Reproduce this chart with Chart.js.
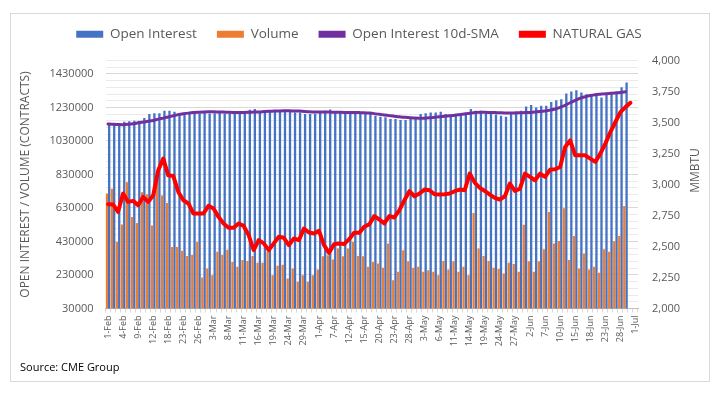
<!DOCTYPE html>
<html>
<head>
<meta charset="utf-8">
<script src="https://cdn.jsdelivr.net/npm/chart.js@4.4.1/dist/chart.umd.min.js"></script>
<style>
  html, body { margin: 0; padding: 0; background: #fff; }
  #wrap { position: relative; width: 725px; height: 395px; }
  #frame { position: absolute; left: 10px; top: 13px; width: 698px; height: 367px; border: 1px solid #d9d9d9; }
  #source { position: absolute; left: 20px; top: 359px; font: 11px 'Open Sans', sans-serif; color: #000; }
  canvas { position: absolute; left: 0; top: 0; }
</style>
</head>
<body>
<div id="wrap">
  <canvas id="chart" width="725" height="395"></canvas>
  <div id="frame"></div>
  <div id="source">Source: CME Group</div>
</div>
<script>
// trading days, Feb 1 to Jul 1
const dates = [
  '1-Feb','2-Feb','3-Feb','4-Feb','5-Feb','8-Feb','9-Feb','10-Feb','11-Feb','12-Feb',
  '16-Feb','17-Feb','18-Feb','19-Feb','22-Feb','23-Feb','24-Feb','25-Feb','26-Feb',
  '1-Mar','2-Mar','3-Mar','4-Mar','5-Mar','8-Mar','9-Mar','10-Mar','11-Mar','12-Mar',
  '15-Mar','16-Mar','17-Mar','18-Mar','19-Mar','22-Mar','23-Mar','24-Mar','25-Mar','26-Mar',
  '29-Mar','30-Mar','31-Mar',
  '1-Apr','5-Apr','6-Apr','7-Apr','8-Apr','9-Apr','12-Apr','13-Apr','14-Apr','15-Apr',
  '16-Apr','19-Apr','20-Apr','21-Apr','22-Apr','23-Apr','26-Apr','27-Apr','28-Apr','29-Apr','30-Apr',
  '3-May','4-May','5-May','6-May','7-May','10-May','11-May','12-May','13-May','14-May',
  '17-May','18-May','19-May','20-May','21-May','24-May','25-May','26-May','27-May','28-May',
  '1-Jun','2-Jun','3-Jun','4-Jun','7-Jun','8-Jun','9-Jun','10-Jun','11-Jun','14-Jun',
  '15-Jun','16-Jun','17-Jun','18-Jun','21-Jun','22-Jun','23-Jun','24-Jun','25-Jun','28-Jun',
  '29-Jun','30-Jun',
  '1-Jul'
];

const openInterest = [
  1131000, 1127000, 1127000, 1145000, 1147000, 1151000, 1151000, 1167000, 1191000, 1195000,
  1195000, 1210000, 1210000, 1204000, 1196000, 1195000, 1193000, 1196000, 1194000, 1196000,
  1193000, 1195000, 1196000, 1194000, 1195000, 1197000, 1195000, 1196000, 1216000, 1220000,
  1206000, 1205000, 1207000, 1206000, 1208000, 1210000, 1210000, 1200000, 1200000, 1191000,
  1191000, 1192000, 1206000, 1210000, 1218000, 1200000, 1200000, 1191000, 1191000, 1192000,
  1191000, 1190000, 1191000, 1181000, 1175000, 1171000, 1161000, 1161000, 1155000, 1155000,
  1161000, 1171000, 1191000, 1195000, 1200000, 1200000, 1204000, 1191000, 1187000, 1187000,
  1195000, 1200000, 1220000, 1210000, 1210000, 1195000, 1191000, 1187000, 1181000, 1175000,
  1200000, 1206000, 1210000, 1236000, 1244000, 1230000, 1240000, 1240000, 1263000, 1273000,
  1279000, 1313000, 1325000, 1333000, 1319000, 1309000, 1301000, 1303000, 1289000, 1315000,
  1318000, 1325000, 1350000, 1379000
];

const volume = [
  717000, 745000, 427000, 532000, 784000, 576000, 540000, 724000, 712000, 526000,
  824000, 705000, 659000, 397000, 397000, 374000, 344000, 350000, 427000, 215000,
  269000, 229000, 368000, 350000, 380000, 308000, 279000, 320000, 314000, 344000,
  303000, 303000, 368000, 229000, 285000, 291000, 209000, 268000, 189000, 229000,
  189000, 229000, 263000, 342000, 348000, 322000, 388000, 342000, 388000, 427000,
  344000, 342000, 279000, 308000, 298000, 273000, 418000, 199000, 249000, 378000,
  312000, 273000, 279000, 249000, 259000, 249000, 229000, 314000, 263000, 312000,
  249000, 279000, 229000, 600000, 388000, 344000, 314000, 273000, 265000, 239000,
  303000, 295000, 249000, 530000, 312000, 249000, 312000, 384000, 606000, 418000,
  433000, 629000, 320000, 463000, 269000, 358000, 263000, 279000, 243000, 384000,
  368000, 431000, 463000, 641000
];

const oiSma = [
  1131000, 1129000, 1128000, 1127000, 1129000, 1132000, 1138000, 1143000, 1147000, 1152000,
  1160000, 1166000, 1173000, 1180000, 1187000, 1192000, 1196000, 1199000, 1201000, 1203000,
  1204000, 1204000, 1203000, 1202000, 1201000, 1200000, 1200000, 1200000, 1201000, 1202000,
  1203000, 1205000, 1207000, 1208000, 1209000, 1210000, 1210000, 1209000, 1208000, 1206000,
  1204000, 1203000, 1202000, 1202000, 1202000, 1201000, 1201000, 1200000, 1200000, 1200000,
  1199000, 1198000, 1196000, 1193000, 1189000, 1185000, 1181000, 1177000, 1174000, 1171000,
  1169000, 1167000, 1166000, 1166000, 1168000, 1171000, 1174000, 1177000, 1180000, 1183000,
  1187000, 1191000, 1195000, 1199000, 1201000, 1201000, 1200000, 1199000, 1198000, 1197000,
  1197000, 1197000, 1198000, 1199000, 1200000, 1202000, 1205000, 1209000, 1214000, 1221000,
  1230000, 1243000, 1258000, 1272000, 1285000, 1294000, 1301000, 1306000, 1309000, 1312000,
  1314000, 1316000, 1319000, 1323000
];

const naturalGas = [
  2841, 2839, 2779, 2927, 2860, 2868, 2833, 2900, 2860, 2913,
  3115, 3209, 3074, 3068, 2940, 2873, 2847, 2766, 2766, 2766,
  2828, 2807, 2739, 2686, 2651, 2651, 2686, 2666, 2592, 2471,
  2551, 2525, 2471, 2525, 2578, 2570, 2511, 2565, 2551, 2645,
  2613, 2605, 2626, 2511, 2449, 2519, 2525, 2519, 2559, 2610,
  2610, 2659, 2678, 2745, 2718, 2686, 2745, 2734, 2793, 2873,
  2946, 2905, 2927, 2959, 2954, 2921, 2919, 2921, 2927, 2946,
  2959, 2954, 3088, 3015, 2973, 2948, 2919, 2892, 2879, 2905,
  3008, 2948, 2967, 3088, 3061, 3034, 3088, 3061, 3120, 3123,
  3141, 3302, 3356, 3235, 3235, 3235, 3209, 3182, 3249, 3330,
  3423, 3504, 3584, 3624, 3659
];

const leftTicks = { min: 30000, max: 1510000, minor: 40000, major: 200000 };
const rightTicks = { min: 2000, max: 4000, step: 250 };

Chart.defaults.font.family = "'Open Sans', sans-serif";
Chart.defaults.color = '#595959';

// push the plot area down a bit under the legend
const legendGap = {
  id: 'legendGap',
  beforeLayout(chart) {
    const lg = chart.legend;
    if (lg && !lg.gapDone) {
      const fit = lg.fit;
      lg.fit = function () { fit.call(this); this.height += 9.5; };
      lg.gapDone = true;
    }
  }
};

// right axis title reads bottom-to-top like the left one
const rightTitle = {
  id: 'rightTitle',
  afterDraw(chart) {
    const s = chart.scales.y2;
    const c = chart.ctx;
    c.save();
    c.translate(s.right - 12, (s.top + s.bottom) / 2 - 14);
    c.rotate(-Math.PI / 2);
    c.font = "12px 'Open Sans', sans-serif";
    c.fillStyle = '#595959';
    c.textAlign = 'center';
    c.textBaseline = 'middle';
    c.fillText('MMBTU', 0, 0);
    c.restore();
  }
};

const ctx = document.getElementById('chart').getContext('2d');

new Chart(ctx, {
  type: 'bar',
  data: {
    labels: dates,
    datasets: [
      {
        type: 'bar', label: 'Open Interest', data: openInterest,
        backgroundColor: '#4472C4', yAxisID: 'y', order: 4,
        categoryPercentage: 0.92, barPercentage: 1
      },
      {
        type: 'bar', label: 'Volume', data: volume,
        backgroundColor: '#ED7D31', yAxisID: 'y', order: 3,
        categoryPercentage: 0.92, barPercentage: 1
      },
      {
        type: 'line', label: 'Open Interest 10d-SMA', data: oiSma,
        borderColor: '#7030A0', backgroundColor: '#7030A0', borderWidth: 3,
        pointRadius: 0, tension: 0.2, yAxisID: 'y', order: 2,
        borderJoinStyle: 'round', borderCapStyle: 'round'
      },
      {
        type: 'line', label: 'NATURAL GAS', data: naturalGas,
        borderColor: '#FF0000', backgroundColor: '#FF0000', borderWidth: 4,
        pointRadius: 0, tension: 0, yAxisID: 'y2', order: 1,
        borderJoinStyle: 'round', borderCapStyle: 'round'
      }
    ]
  },
  options: {
    responsive: false,
    animation: false,
    layout: { padding: { top: 7.5, left: 10, right: 17, bottom: 36.5 } },
    plugins: {
      tooltip: { enabled: false },
      legend: {
        position: 'top',
        labels: {
          boxWidth: 27,
          boxHeight: 7,
          padding: 20,
          font: { size: 13.5 },
          color: '#595959',
          generateLabels: chart => chart.data.datasets.map((d, i) => ({
            text: d.label,
            fillStyle: d.type === 'line' ? d.borderColor : d.backgroundColor,
            strokeStyle: d.type === 'line' ? d.borderColor : d.backgroundColor,
            lineWidth: 0,
            hidden: false,
            datasetIndex: i,
            fontColor: '#595959'
          }))
        }
      }
    },
    scales: {
      x: {
        grid: { display: true, drawOnChartArea: false, drawTicks: true, tickLength: 4, color: '#d9d9d9', offset: true },
        border: { display: true, color: '#bfbfbf' },
        ticks: {
          autoSkip: false, maxRotation: 90, minRotation: 90, padding: 3,
          font: { size: 9 }, color: '#595959',
          callback: (v, i) => (i % 3 === 0 ? dates[i] : '')
        },
        afterFit: s => { s.height = 50; }
      },
      y: {
        position: 'left',
        min: leftTicks.min,
        max: leftTicks.max,
        ticks: {
          stepSize: leftTicks.minor, autoSkip: false, padding: 12,
          font: { size: 11 }, color: '#595959',
          callback: v => ((v - leftTicks.min) % leftTicks.major === 0 ? String(v) : '')
        },
        grid: {
          drawTicks: false,
          color: c => ((c.tick.value - leftTicks.min) % leftTicks.major === 0 ? '#d9d9d9' : '#ebebeb')
        },
        border: { display: false },
        title: {
          display: true, text: 'OPEN INTEREST / VOLUME (CONTRACTS)',
          font: { size: 12 }, color: '#595959', padding: { top: 8, bottom: 0 }
        },
        afterFit: s => { s.width = 95.5; }
      },
      y2: {
        position: 'right',
        min: rightTicks.min,
        max: rightTicks.max,
        ticks: {
          stepSize: rightTicks.step, padding: 14,
          font: { size: 11 }, color: '#595959',
          callback: v => v.toLocaleString('en-US')
        },
        grid: { drawOnChartArea: false, drawTicks: false },
        border: { display: false },
        afterFit: s => { s.width = 70; }
      }
    }
  },
  plugins: [legendGap, rightTitle]
});
</script>
</body>
</html>
